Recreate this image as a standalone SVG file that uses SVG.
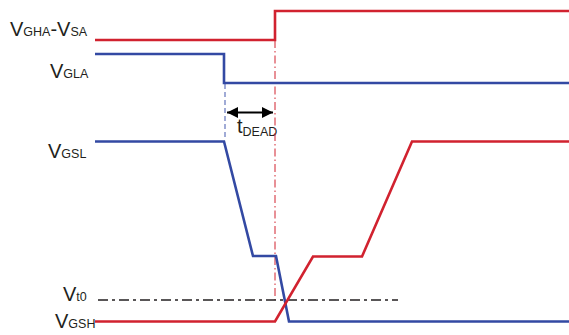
<svg xmlns="http://www.w3.org/2000/svg" width="569" height="335" viewBox="0 0 569 335">
<style>
.lbl{font-family:"Liberation Sans",Arial,sans-serif;font-size:20px;fill:#231f20}
.sub{font-size:12.5px}
.red{fill:none;stroke:#d1222f;stroke-width:2.6;stroke-linejoin:miter}
.blue{fill:none;stroke:#3349a3;stroke-width:2.6;stroke-linejoin:miter}
</style>
<defs>
<marker id="ah" viewBox="0 0 10 10" refX="10" refY="5" markerWidth="5" markerHeight="5" orient="auto-start-reverse" markerUnits="strokeWidth">
<path d="M0,0 L10,5 L0,10 z" fill="#000"/>
</marker>
</defs>
<g id="labels">
<text class="lbl" x="10" y="36">V<tspan class="sub">GHA</tspan>-V<tspan class="sub">SA</tspan></text>
<text class="lbl" x="50" y="78">V<tspan class="sub">GLA</tspan></text>
<text class="lbl" x="48" y="158">V<tspan class="sub">GSL</tspan></text>
<text class="lbl" x="63" y="301">V<tspan class="sub">t0</tspan></text>
<text class="lbl" x="55" y="328">V<tspan class="sub">GSH</tspan></text>
<text class="lbl" x="237" y="133">t<tspan class="sub" dy="3">DEAD</tspan></text>
</g>
<g id="connectors">
<line x1="225" y1="84" x2="225" y2="140" stroke="#6f7fc0" stroke-width="1.3" stroke-dasharray="5,3"/>
<line x1="275" y1="40" x2="275" y2="300" stroke="#d1222f" stroke-width="1" stroke-dasharray="8,3,1.5,3"/>
<line x1="98" y1="300" x2="398" y2="300" stroke="#231f20" stroke-width="1.5" stroke-dasharray="10,4,3,4"/>
<line x1="227" y1="112.5" x2="273" y2="112.5" stroke="#000" stroke-width="2.2" marker-start="url(#ah)" marker-end="url(#ah)"/>
</g>
<g id="VGHA">
<polyline class="red" points="95,40 275,40 275,11 569,11"/>
</g>
<g id="VGLA">
<polyline class="blue" points="95,54 224,54 224,83 569,83"/>
</g>
<g id="VGSL">
<polyline class="blue" points="95,141.5 224,141.5 253,256 276,256 289,321.5 569,321.5"/>
</g>
<g id="VGSH">
<polyline class="red" points="95,321.5 275,321.5 313,256.5 362,256.5 412,141.5 569,141.5"/>
</g>
</svg>
